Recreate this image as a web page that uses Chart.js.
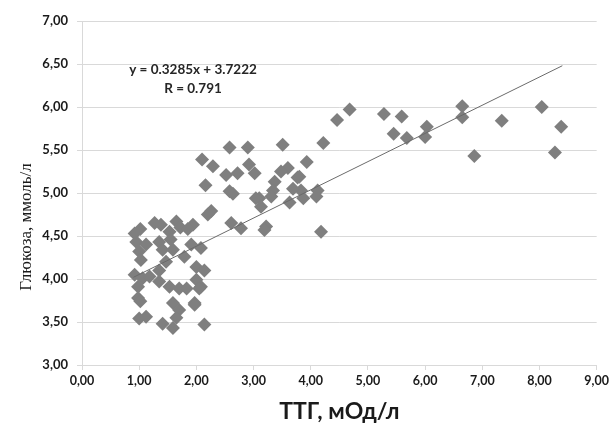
<!DOCTYPE html>
<html>
<head>
<meta charset="utf-8">
<script src="https://cdn.jsdelivr.net/npm/chart.js@4/dist/chart.umd.min.js"></script>
<style>
  html, body { margin: 0; padding: 0; background: #fff; }
  #wrap { width: 612px; height: 429px; }
</style>
</head>
<body>
<div id="wrap"><canvas id="chart" width="612" height="429"></canvas></div>
<script>
// ТТГ (x) and глюкоза (y)
const ttg = [
  4.68, 4.46, 4.22, 3.93, 3.80, 3.83, 3.87, 4.12, 4.10, 4.18,
  5.28, 5.59, 5.45, 5.68, 6.03, 6.00, 6.65, 6.65, 6.86, 7.34,
  8.04, 8.38, 8.27,
  3.51, 3.60, 3.48, 3.37, 3.77, 3.34, 3.69, 3.10, 3.63, 3.22, 3.31,
  2.58, 2.90, 2.10, 2.29, 2.52, 2.72, 2.92, 3.02, 2.16, 2.58,
  2.64, 3.04, 3.13, 2.26, 2.61, 2.78, 3.19, 1.94, 2.08, 2.00,
  2.14, 2.00, 2.08, 1.97, 2.14, 2.20,
  0.92, 1.02, 1.27, 1.38, 1.65, 1.72, 1.53, 1.85, 0.95, 1.12,
  1.35, 1.55, 1.41, 1.59, 1.91, 1.00, 1.03, 1.47, 1.79, 1.35,
  0.92, 1.06, 1.18, 0.98, 1.35, 1.53, 1.70, 1.83, 2.05, 0.98,
  1.02, 1.59, 1.70, 1.97, 1.65, 1.00, 1.12, 1.41, 1.59
];
const glucose = [
  5.97, 5.85, 5.58, 5.36, 5.19, 5.03, 4.94, 5.03, 4.96, 4.55,
  5.92, 5.89, 5.69, 5.64, 5.77, 5.65, 6.01, 5.88, 5.43, 5.84,
  6.00, 5.77, 5.47,
  5.56, 5.29, 5.25, 5.13, 5.18, 5.03, 5.05, 4.94, 4.89, 4.61, 4.96,
  5.53, 5.53, 5.39, 5.31, 5.21, 5.23, 5.33, 5.23, 5.09, 5.02,
  4.99, 4.94, 4.84, 4.79, 4.65, 4.59, 4.57, 4.63, 4.36, 4.14,
  4.10, 3.99, 3.91, 3.72, 3.47, 4.75,
  4.53, 4.58, 4.65, 4.63, 4.67, 4.60, 4.55, 4.58, 4.43, 4.40,
  4.43, 4.46, 4.34, 4.34, 4.40, 4.32, 4.22, 4.20, 4.26, 4.10,
  4.05, 4.01, 4.03, 3.91, 3.97, 3.91, 3.89, 3.89, 3.89, 3.78,
  3.74, 3.72, 3.64, 3.70, 3.55, 3.54, 3.56, 3.48, 3.43
];
// linear trend, ends of the drawn line
const trendX = [0.9, 8.4];
const trendY = [4.02, 6.48];
const equationLines = ["y = 0.3285x + 3.7222", "R = 0.791"];
const xTitle = "ТТГ, мОд/л";
const yTitle = "Глюкоза, ммоль/л";

const points = ttg.map((x, i) => ({ x: x, y: glucose[i] }));
const trend = trendX.map((x, i) => ({ x: x, y: trendY[i] }));

const gridColor = "#d9d9d9";
const labelFont = { family: "Lato", size: 13, weight: "bold" };

const extraText = {
  id: "extraText",
  afterDraw(chart) {
    const ctx = chart.ctx;
    ctx.save();
    ctx.fillStyle = "#262626";
    ctx.textAlign = "center";
    ctx.textBaseline = "middle";
    ctx.font = "bold 13.5px Lato";
    ctx.fillText(equationLines[0], 193, 70);
    ctx.fillText(equationLines[1], 193, 89);
    // y title sits lower than the axis centre in the original
    ctx.translate(27, 227);
    ctx.rotate(-Math.PI / 2);
    ctx.fillStyle = "#1a1a1a";
    ctx.font = '17px "Liberation Serif"';
    ctx.fillText(yTitle, 0, 0);
    ctx.restore();
  }
};

new Chart(document.getElementById("chart"), {
  type: "scatter",
  data: {
    datasets: [
      {
        label: "data",
        data: points,
        pointStyle: "rectRot",
        pointRadius: 7,
        pointHoverRadius: 7,
        backgroundColor: "#7f7f7f",
        borderWidth: 0,
        order: 2
      },
      {
        label: "trend",
        type: "line",
        data: trend,
        borderColor: "#6b6b6b",
        borderWidth: 1,
        pointRadius: 0,
        fill: false,
        order: 1
      }
    ]
  },
  options: {
    responsive: false,
    animation: false,
    layout: { padding: { top: 21, right: 15, left: 0, bottom: 0 } },
    plugins: { legend: { display: false }, tooltip: { enabled: false } },
    scales: {
      x: {
        type: "linear",
        min: 0,
        max: 9,
        afterFit: (s) => { s.height = 64; },
        ticks: {
          stepSize: 1,
          padding: 3,
          color: "#1a1a1a",
          font: { family: "Lato", size: 12.5, weight: "bold" },
          callback: (v) => v.toFixed(2).replace(".", ",")
        },
        grid: {
          drawOnChartArea: false,
          drawTicks: true,
          tickLength: 5,
          color: gridColor
        },
        border: { color: gridColor },
        title: {
          display: true,
          text: xTitle,
          color: "#1a1a1a",
          font: { family: "Lato", size: 23, weight: "bold" },
          padding: { top: 0, bottom: 4 }
        }
      },
      y: {
        min: 3,
        max: 7,
        afterFit: (s) => { s.width = 82; },
        ticks: {
          stepSize: 0.5,
          padding: 9,
          color: "#1a1a1a",
          font: labelFont,
          callback: (v) => v.toFixed(2).replace(".", ",")
        },
        grid: { color: gridColor, tickLength: 5 },
        border: { color: gridColor }
      }
    }
  },
  plugins: [extraText]
});
</script>
</body>
</html>
